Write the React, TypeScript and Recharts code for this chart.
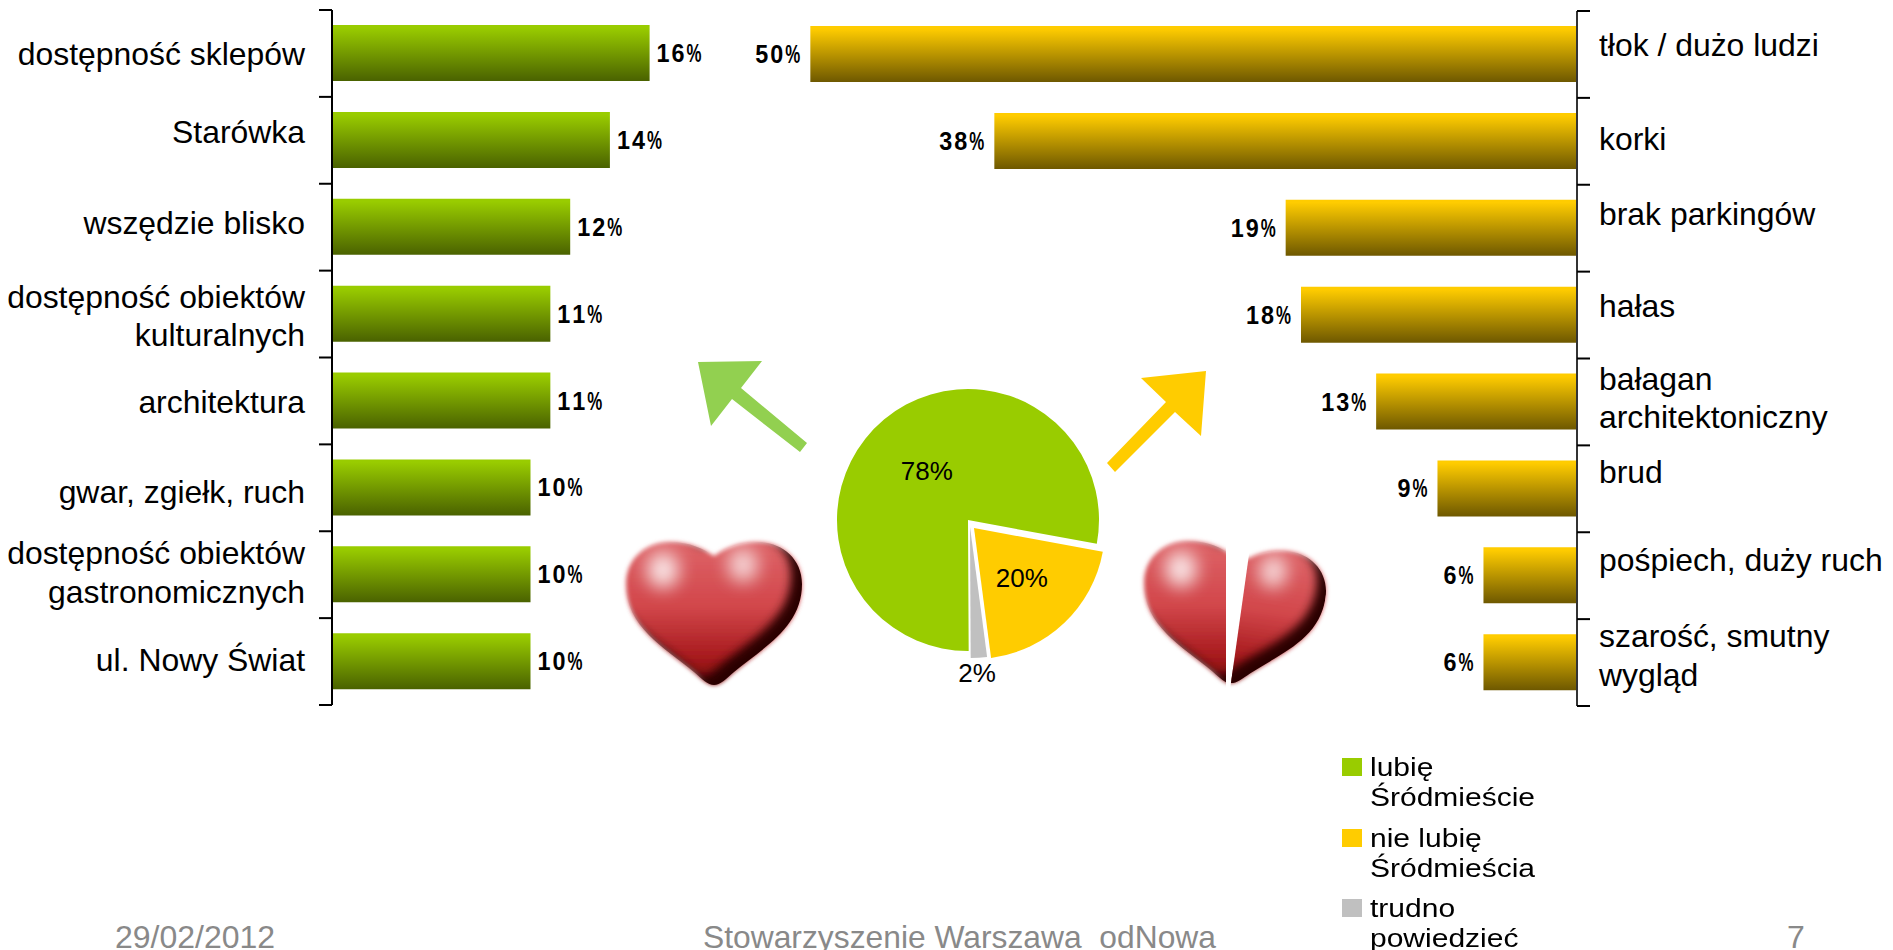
import { Bar, BarChart, Cell, Legend, LabelList, Pie, PieChart, XAxis, YAxis } from 'recharts';

const FONT = '"Liberation Sans", Arial, sans-serif';

const likeLabels = [
  'dostępność sklepów',
  'Starówka',
  'wszędzie blisko',
  'dostępność obiektów|kulturalnych',
  'architektura',
  'gwar, zgiełk, ruch',
  'dostępność obiektów|gastronomicznych',
  'ul. Nowy Świat',
];
const likeValues = [16, 14, 12, 11, 11, 10, 10, 10];

const dislikeLabels = [
  'tłok / dużo ludzi',
  'korki',
  'brak parkingów',
  'hałas',
  'bałagan|architektoniczny',
  'brud',
  'pośpiech, duży ruch',
  'szarość, smutny|wygląd',
];
const dislikeValues = [50, 38, 19, 18, 13.1, 9.1, 6.1, 6.1];

const pieNames = ['lubię Śródmieście', 'nie lubię Śródmieścia', 'trudno powiedzieć'];
const pieValues = [78, 20, 2];
const pieColors = ['#99CC00', '#FFCC00', '#C0C0C0'];

// label nudges and exploded-slice offsets, layout only
const likeNudge = [1, -8, -4, 2, 1, 4, -2, -2];
const dislikeNudge = [-9, -2, -14, -9, -4, -17, -16, -7];
const pieShift = [[0, 0], [6, 8], [2, 7]];
const pieLabelRadius = [0.49, 0.53, 1.12];
const pieLabelDx = [0, 0, -3];

const likeData = likeLabels.map((name, i) => ({ name, value: likeValues[i] }));
const dislikeData = dislikeLabels.map((name, i) => ({ name, value: dislikeValues[i] }));

const PLOT_H = 695;
const BAND = PLOT_H / 8;

function CategoryTick({ x, y, payload, index, side, nudge }: any) {
  const lines = String(payload.value).split('|');
  const axisX = side === 'left' ? x + 27 : x - 22;
  const tickEnd = side === 'left' ? axisX - 13 : axisX + 13;
  const top = y + nudge[index] - ((lines.length - 1) * 38.6) / 2;
  return (
    <g>
      <line x1={axisX} x2={tickEnd} y1={y - BAND / 2} y2={y - BAND / 2} stroke="#000" strokeWidth={2} />
      {index === 7 && <line x1={axisX} x2={tickEnd} y1={y + BAND / 2} y2={y + BAND / 2} stroke="#000" strokeWidth={2} />}
      <text textAnchor={side === 'left' ? 'end' : 'start'} fontFamily={FONT} fontSize={31.9} fill="#000">
        {lines.map((line, i) => (
          <tspan key={i} x={x} y={top + i * 38.6 + 11}>
            {line}
          </tspan>
        ))}
      </text>
    </g>
  );
}

function ValueLabel({ x, y, width, height, value, side }: any) {
  const left = Math.min(x, x + width);
  const right = Math.max(x, x + width);
  const digits = String(Math.round(value)).split('');
  const w = (digits.length + 1) * 15;
  const tx = side === 'left' ? right + 7 : left - 10 - w;
  const by = y + height / 2 + 9;
  return (
    <g fontFamily={FONT} fontWeight="bold" fontSize={25} fill="#000">
      {digits.map((d, i) => (
        <text key={i} x={tx + i * 15} y={by} textLength={13} lengthAdjust="spacingAndGlyphs">
          {d}
        </text>
      ))}
      <text x={tx + digits.length * 15} y={by} textLength={15} lengthAdjust="spacingAndGlyphs">
        %
      </text>
    </g>
  );
}

function PieValueLabel({ cx, cy, midAngle, outerRadius, value, ratio, dx }: any) {
  const r = outerRadius * ratio;
  const a = (midAngle * Math.PI) / 180;
  return (
    <text
      x={cx + r * Math.cos(a) + dx}
      y={cy - r * Math.sin(a) + 9}
      textAnchor="middle"
      fontFamily={FONT}
      fontSize={26}
      fill="#000"
    >
      {value}%
    </text>
  );
}

function PieLegend() {
  return (
    <div style={{ fontFamily: FONT, fontSize: 25, lineHeight: '30px', color: '#000' }}>
      {pieNames.map((name, i) => {
        const cut = name.lastIndexOf(' ');
        return (
          <div key={name} style={{ position: 'relative', height: 60, marginBottom: 10.5 }}>
            <div style={{ position: 'absolute', left: 0, top: 1, width: 20, height: 18, background: pieColors[i] }} />
            <div style={{ position: 'absolute', left: 28, top: -5, transform: 'scaleX(1.2)', transformOrigin: 'left', whiteSpace: 'nowrap' }}>
              {name.slice(0, cut)}
              <br />
              {name.slice(cut + 1)}
            </div>
          </div>
        );
      })}
    </div>
  );
}

const HEART =
  'M0 143 C-6 143 -12 137 -20 130 C-50 105 -88 85 -88 42 C-88 15 -66 0 -44 0 C-24 0 -10 7 0 14 C10 7 24 0 44 0 C66 0 88 15 88 42 C88 85 50 105 20 130 C12 137 6 143 0 143 Z';

function Heart({ transform, clip }: { transform: string; clip?: string }) {
  return (
    <g transform={transform} clipPath={clip}>
      <g filter="url(#heartEdge)">
        <path d={HEART} fill="url(#heartBody)" />
      </g>
      <g clipPath="url(#heartClip)">
        <path
          d={`M-140 -40 H140 V190 H-140 Z ${HEART}`}
          transform="translate(-11 -9)"
          fillRule="evenodd"
          fill="#2a0000"
          filter="url(#heartShade)"
        />
        <ellipse cx={-51} cy={28} rx={16} ry={18} fill="#fff" opacity={0.85} filter="url(#heartGlow)" />
        <ellipse cx={29} cy={23} rx={15} ry={17} fill="#fff" opacity={0.75} filter="url(#heartGlow)" />
      </g>
    </g>
  );
}

function Decorations() {
  return (
    <svg width={1893} height={950} style={{ position: 'absolute', left: 0, top: 0 }}>
      <defs>
        <linearGradient id="heartBody" x1="0" y1="0" x2="0" y2="1">
          <stop offset="0" stopColor="#de6468" />
          <stop offset="0.45" stopColor="#d2474b" />
          <stop offset="0.8" stopColor="#a81b1e" />
          <stop offset="1" stopColor="#7a0a0c" />
        </linearGradient>
        <filter id="heartShade" x="-50%" y="-50%" width="200%" height="200%">
          <feGaussianBlur stdDeviation="5" />
        </filter>
        <filter id="heartGlow" x="-100%" y="-100%" width="300%" height="300%">
          <feGaussianBlur stdDeviation="9" />
        </filter>
        <filter id="heartEdge" x="-10%" y="-10%" width="120%" height="120%">
          <feGaussianBlur stdDeviation="2" />
        </filter>
        <clipPath id="heartClip">
          <path d={HEART} />
        </clipPath>
        <clipPath id="leftHalf">
          <rect x={-100} y={-10} width={94} height={170} />
        </clipPath>
        <clipPath id="rightHalf">
          <rect x={1} y={-10} width={100} height={170} />
        </clipPath>
      </defs>
      <polygon points="698,362 762,361 741,388 807,443 800,452 732,399 711,426" fill="#92D050" />
      <polygon points="1206,371 1201,436 1175,412 1115,472 1107,463 1166,402 1141,378" fill="#FFCC00" />
      <Heart transform="translate(714 542)" />
      <Heart transform="translate(1232 541)" clip="url(#leftHalf)" />
      <Heart transform="translate(1230 683) rotate(8) scale(0.94 0.97) translate(0 -143)" clip="url(#rightHalf)" />
      <g fontFamily={FONT} fill="#898989" fontSize={32}>
        <text x={115} y={948}>29/02/2012</text>
        <text x={703} y={948} textLength={513} lengthAdjust="spacingAndGlyphs" xmlSpace="preserve">
          Stowarzyszenie Warszawa  odNowa
        </text>
        <text x={1787} y={948}>7</text>
      </g>
    </svg>
  );
}

export default function App() {
  const total = pieValues.reduce((a, b) => a + b, 0);
  let angle = -89.7;
  const slices = pieValues.map((v) => {
    const start = angle;
    angle -= (v / total) * 360;
    return { start, end: angle };
  });

  return (
    <div style={{ position: 'absolute', left: 0, top: 0, width: 1893, height: 950, overflow: 'hidden', background: '#fff' }}>
      <Decorations />
      <div style={{ position: 'absolute', left: 0, top: 0 }}>
        <BarChart width={729} height={730} data={likeData} layout="vertical" margin={{ top: 10, right: 0, bottom: 25, left: 0 }} barSize={56}>
          <defs>
            <linearGradient id="greenBar" x1="0" y1="0" x2="0" y2="1">
              <stop offset="0.05" stopColor="#99CC00" />
              <stop offset="1" stopColor="#4A6200" />
            </linearGradient>
          </defs>
          <XAxis type="number" domain={[0, 20]} hide />
          <YAxis
            type="category"
            dataKey="name"
            width={332}
            interval={0}
            tickLine={false}
            tickSize={13}
            tickMargin={14}
            axisLine={{ stroke: '#000', strokeWidth: 2 }}
            tick={<CategoryTick side="left" nudge={likeNudge} />}
          />
          <Bar dataKey="value" fill="url(#greenBar)" isAnimationActive={false}>
            <LabelList dataKey="value" content={<ValueLabel side="left" />} />
          </Bar>
        </BarChart>
      </div>
      <div style={{ position: 'absolute', left: 657, top: 1 }}>
        <BarChart width={1236} height={730} data={dislikeData} layout="vertical" margin={{ top: 10, right: 0, bottom: 25, left: 0 }} barSize={56}>
          <defs>
            <linearGradient id="yellowBar" x1="0" y1="0" x2="0" y2="1">
              <stop offset="0.05" stopColor="#FFCC00" />
              <stop offset="1" stopColor="#6E5800" />
            </linearGradient>
          </defs>
          <XAxis type="number" domain={[0, 60]} reversed hide />
          <YAxis
            type="category"
            dataKey="name"
            orientation="right"
            width={316}
            interval={0}
            tickLine={false}
            tickSize={13}
            tickMargin={9}
            axisLine={{ stroke: '#333', strokeWidth: 2 }}
            tick={<CategoryTick side="right" nudge={dislikeNudge} />}
          />
          <Bar dataKey="value" fill="url(#yellowBar)" isAnimationActive={false}>
            <LabelList dataKey="value" content={<ValueLabel side="right" />} />
          </Bar>
        </BarChart>
      </div>
      <div style={{ position: 'absolute', left: 0, top: 0 }}>
        <PieChart width={1893} height={950} margin={{ top: 0, right: 0, bottom: 0, left: 0 }}>
          {pieValues.map((v, i) => (
            <Pie
              key={pieNames[i]}
              data={[{ name: pieNames[i], value: v }]}
              dataKey="value"
              nameKey="name"
              cx={968 + pieShift[i][0]}
              cy={520 + pieShift[i][1]}
              outerRadius={131}
              startAngle={slices[i].start}
              endAngle={slices[i].end}
              paddingAngle={0}
              stroke="none"
              labelLine={false}
              label={(p: any) => <PieValueLabel {...p} ratio={pieLabelRadius[i]} dx={pieLabelDx[i]} />}
              isAnimationActive={false}
            >
              <Cell fill={pieColors[i]} />
            </Pie>
          ))}
          <Legend
            layout="vertical"
            content={<PieLegend />}
            wrapperStyle={{ position: 'absolute', left: 1342, top: 757, width: 260, bottom: 'auto' }}
          />
        </PieChart>
      </div>
    </div>
  );
}
